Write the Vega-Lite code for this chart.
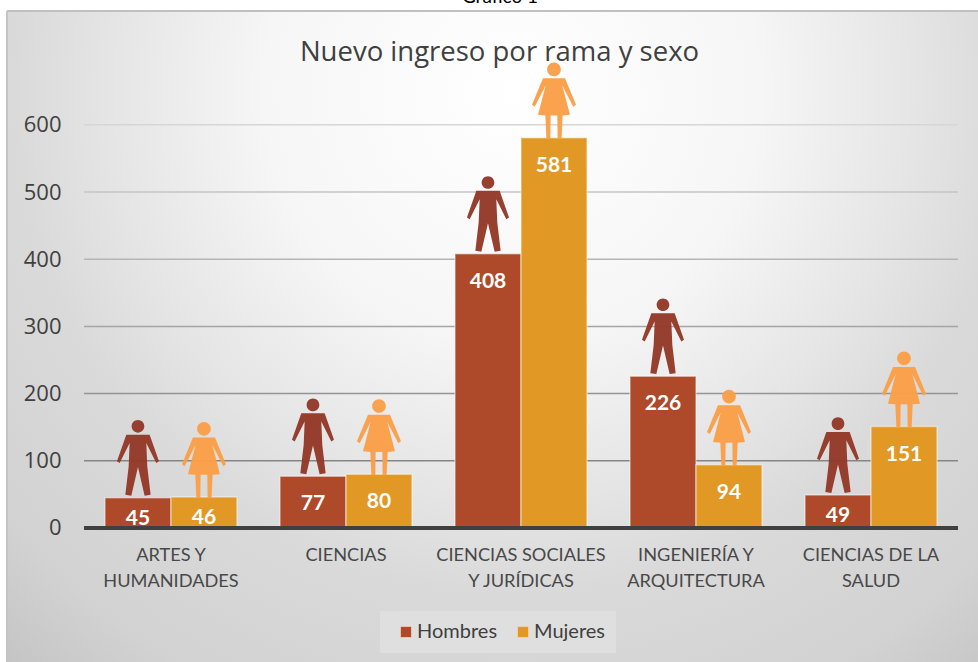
{
"$schema":"https://vega.github.io/schema/vega-lite/v6.json",
"width":971,"height":651,
"autosize":{"type":"none"},
"padding":{"left":7,"top":11,"right":0,"bottom":0},
"background":"#ffffff",
"title":{"text":"Nuevo ingreso por rama y sexo","anchor":"middle","frame":"group","offset":-78,"dx":7,"font":"Open Sans","fontSize":27.5,"fontWeight":"normal","color":"#404040"},
"config":{"view":{"stroke":null},"font":"Lato"},
"view":{"stroke":null,"fill":{"gradient":"radial","x1":0.52,"y1":0.25,"r1":0,"x2":0.52,"y2":0.25,"r2":0.85,"stops":[{"offset":0,"color":"#ffffff"},{"offset":0.3,"color":"#f6f6f6"},{"offset":0.5,"color":"#e4e4e4"},{"offset":0.6,"color":"#dadada"},{"offset":0.8,"color":"#d2d2d2"},{"offset":1,"color":"#bcbcbc"}]}},
"datasets":{
"ingreso":[
{"rama":"ARTES Y HUMANIDADES","sexo":"Hombres","valor":45},
{"rama":"ARTES Y HUMANIDADES","sexo":"Mujeres","valor":46},
{"rama":"CIENCIAS","sexo":"Hombres","valor":77},
{"rama":"CIENCIAS","sexo":"Mujeres","valor":80},
{"rama":"CIENCIAS SOCIALES Y JURÍDICAS","sexo":"Hombres","valor":408},
{"rama":"CIENCIAS SOCIALES Y JURÍDICAS","sexo":"Mujeres","valor":581},
{"rama":"INGENIERÍA Y ARQUITECTURA","sexo":"Hombres","valor":226},
{"rama":"INGENIERÍA Y ARQUITECTURA","sexo":"Mujeres","valor":94},
{"rama":"CIENCIAS DE LA SALUD","sexo":"Hombres","valor":49},
{"rama":"CIENCIAS DE LA SALUD","sexo":"Mujeres","valor":151}
],
"rejilla":[{"valor":100},{"valor":200},{"valor":300},{"valor":400},{"valor":500},{"valor":600}]
},
"encoding":{
"y":{"field":"valor","type":"quantitative","scale":{"domain":[-199.5,769.5],"nice":false,"zero":false},
"axis":{"orient":"left","offset":-77,"values":[0,100,200,300,400,500,600],"grid":false,"domain":false,"ticks":false,"title":null,"labelPadding":23,"labelFont":"Open Sans","labelFontSize":22,"labelColor":"#404040"}}
},
"layer":[
{"data":{"values":[{"borde":"superior"}]},"mark":{"type":"rule","strokeWidth":2,"color":"#c0c0c0"},
"encoding":{"y":{"value":0},"x":{"value":0},"x2":{"value":971}}},
{"data":{"values":[{"borde":"izquierdo"}]},"mark":{"type":"rule","strokeWidth":2,"color":"#c4c4c4"},
"encoding":{"x":{"value":0},"y":{"value":0},"y2":{"value":651}}},
{"data":{"name":"rejilla"},"mark":{"type":"rule","strokeWidth":1.5},
"encoding":{"x":{"value":77},"x2":{"value":951},
"stroke":{"field":"valor","type":"quantitative","scale":{"domain":[100,600],"range":["#858585","#d6d6d6"]},"legend":null}}},
{"data":{"name":"ingreso"},"mark":{"type":"bar","stroke":"#ffffff","strokeOpacity":0.45,"strokeWidth":1.5},
"encoding":{
"x":{"field":"rama","type":"nominal","sort":null,
"scale":{"paddingInner":0.2457,"paddingOuter":0.397,"align":0.705},
"axis":{"orient":"bottom","offset":-135,"title":null,"domain":false,"ticks":false,"labelAngle":0,"labelPadding":19,"labelFontSize":18.2,"labelColor":"#484848","labelLineHeight":26,"labelOverlap":false,"labelLimit":300,"labelBaseline":"top",
"labelExpr":"datum.label == 'ARTES Y HUMANIDADES' ? ['ARTES Y','HUMANIDADES'] : datum.label == 'CIENCIAS SOCIALES Y JURÍDICAS' ? ['CIENCIAS SOCIALES','Y JURÍDICAS'] : datum.label == 'INGENIERÍA Y ARQUITECTURA' ? ['INGENIERÍA Y','ARQUITECTURA'] : datum.label == 'CIENCIAS DE LA SALUD' ? ['CIENCIAS DE LA','SALUD'] : datum.label"}},
"xOffset":{"field":"sexo","type":"nominal","sort":null,"scale":{"paddingInner":0,"paddingOuter":0}},
"color":{"field":"sexo","type":"nominal","sort":null,"scale":{"domain":["Hombres","Mujeres"],"range":["#AE4A2A","#E19824"]},
"legend":{"orient":"none","legendX":373,"legendY":600,"direction":"horizontal","title":null,"fillColor":"#dfdfdf","padding":11,"symbolType":"square","symbolSize":130,"symbolOffset":5,"symbolStrokeColor":"#f0d8c8","symbolStrokeWidth":1,"labelFont":"Lato","labelFontSize":20,"labelColor":"#404040","labelOffset":1,"columnPadding":10}},
"y":{"field":"valor","type":"quantitative"},
"y2":{"datum":0}
}},
{"data":{"name":"ingreso"},"transform":[{"filter":"datum.sexo == 'Hombres'"}],
"mark":{"type":"point","filled":true,"opacity":0.96,"stroke":null,"color":"#933826","size":5776,
"shape":"M-.167,-1.878A.167,.167 0 1,1 .167,-1.878A.167,.167 0 1,1 -.167,-1.878ZM-.307,-1.658L.307,-1.658L.553,-.957L.482,-.913L.219,-1.439L.245,-.825L.333,-.079L.175,-.053L0,-.807L-.175,-.053L-.333,-.079L-.245,-.825L-.219,-1.439L-.482,-.913L-.553,-.957Z"},
"encoding":{
"x":{"field":"rama","type":"nominal","sort":null},
"xOffset":{"field":"sexo","type":"nominal","sort":null}
}},
{"data":{"name":"ingreso"},"transform":[{"filter":"datum.sexo == 'Mujeres'"}],
"mark":{"type":"point","filled":true,"opacity":0.96,"stroke":null,"color":"#FB9E48","size":5776,
"shape":"M-.18,-1.795A.18,.18 0 1,1 .18,-1.795A.18,.18 0 1,1 -.18,-1.795ZM-.29,-1.566L.29,-1.566L.579,-.865L.509,-.812L.219,-1.374L.421,-.602L.228,-.584L.2,.03L.096,.03L.088,-.584L-.088,-.584L-.096,.03L-.2,.03L-.228,-.584L-.421,-.602L-.219,-1.374L-.509,-.812L-.579,-.865Z"},
"encoding":{
"x":{"field":"rama","type":"nominal","sort":null},
"xOffset":{"field":"sexo","type":"nominal","sort":null}
}},
{"data":{"name":"rejilla"},"transform":[{"filter":"datum.valor == 100"},{"calculate":"0","as":"cero"}],"mark":{"type":"rule","strokeWidth":4,"color":"#404040"},
"encoding":{"x":{"value":77},"x2":{"value":951},"y":{"field":"cero","type":"quantitative"}}},
{"data":{"name":"ingreso"},"transform":[{"filter":"datum.valor > 60"}],"mark":{"type":"text","dy":28,"font":"Lato","fontSize":21,"fontWeight":"bold","color":"#ffffff"},
"encoding":{"x":{"field":"rama","type":"nominal","sort":null},"xOffset":{"field":"sexo","type":"nominal","sort":null},"text":{"field":"valor","type":"quantitative"}}},
{"data":{"name":"ingreso"},"transform":[{"filter":"datum.valor <= 60"}],"mark":{"type":"text","dy":21,"font":"Lato","fontSize":21,"fontWeight":"bold","color":"#ffffff"},
"encoding":{"x":{"field":"rama","type":"nominal","sort":null},"xOffset":{"field":"sexo","type":"nominal","sort":null},"text":{"field":"valor","type":"quantitative"}}},
{"data":{"values":[{"texto":"Gráfico 1"}]},"mark":{"type":"text","font":"Lato","fontSize":19,"color":"#000000","baseline":"alphabetic"},
"encoding":{"x":{"value":493},"y":{"value":-8},"text":{"field":"texto","type":"nominal"}}}
]
}
